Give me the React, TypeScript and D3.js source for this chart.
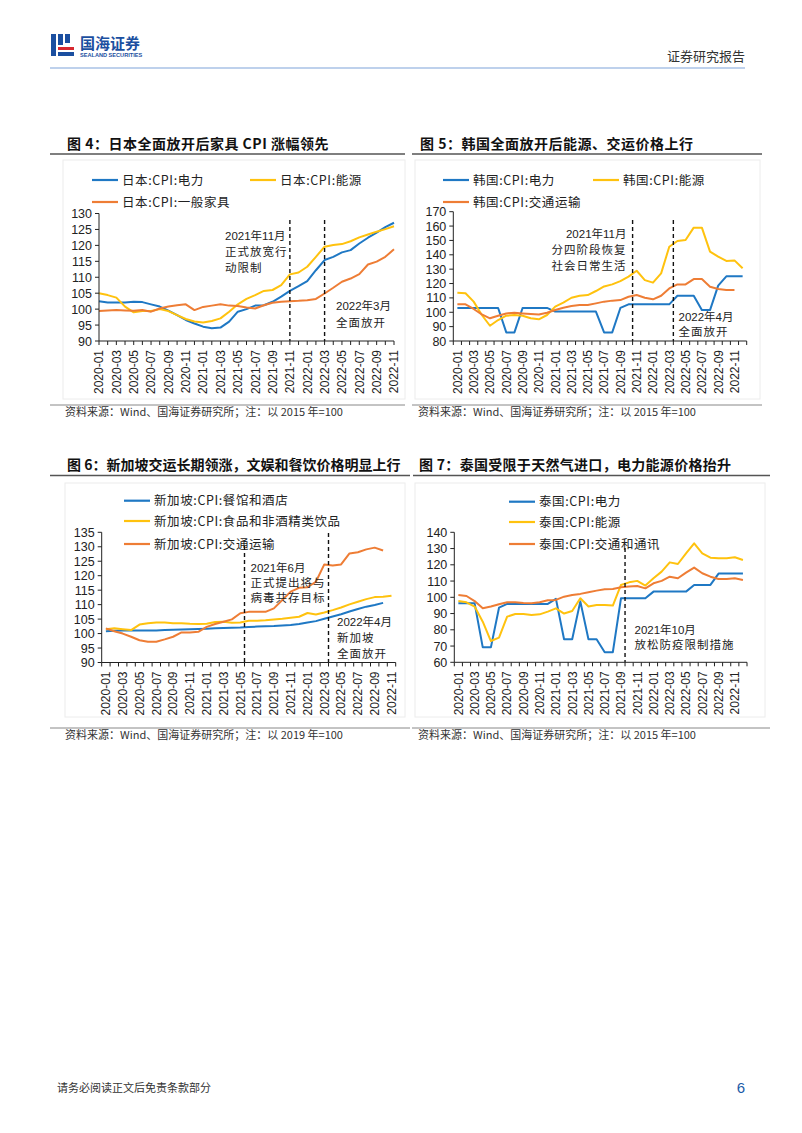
import React from 'react';
import * as d3 from 'd3';

// month categories shared by the four charts
const months = [
  '2020-01', '2020-02', '2020-03', '2020-04', '2020-05', '2020-06', '2020-07', '2020-08', '2020-09', '2020-10', '2020-11', '2020-12',
  '2021-01', '2021-02', '2021-03', '2021-04', '2021-05', '2021-06', '2021-07', '2021-08', '2021-09', '2021-10', '2021-11', '2021-12',
  '2022-01', '2022-02', '2022-03', '2022-04', '2022-05', '2022-06', '2022-07', '2022-08', '2022-09', '2022-10', '2022-11', '2022-12'
];

// 图4 日本
const jpMonths = months.slice(0, 35);
const jpPower = [102.5, 102.1, 102.1, 102.1, 102.3, 102.2, 101.5, 100.8, 99.5, 98.1, 96.6, 95.5, 94.5, 94.0, 94.2, 96.1, 99.2, 100.0, 101.1, 101.2, 102.3, 103.9, 105.7, 107.2, 108.8, 112.2, 115.4, 116.4, 117.8, 118.5, 120.6, 122.4, 124.0, 125.7, 127.1];
const jpEnergy = [105.0, 104.4, 103.6, 100.8, 99.0, 99.4, 99.4, 100.0, 99.4, 98.1, 96.9, 96.1, 95.8, 96.3, 97.1, 99.2, 101.5, 103.2, 104.4, 105.7, 106.0, 107.5, 110.9, 111.5, 113.3, 116.4, 119.6, 120.1, 120.4, 121.3, 122.5, 123.4, 124.3, 125.1, 126.0];
const jpFurniture = [99.4, 99.6, 99.7, 99.6, 99.5, 99.7, 99.2, 100.2, 100.8, 101.2, 101.5, 99.7, 100.7, 101.1, 101.5, 101.1, 101.0, 100.5, 100.2, 101.2, 102.0, 102.3, 102.5, 102.6, 102.8, 103.2, 104.9, 106.7, 108.6, 109.6, 111.0, 114.0, 114.9, 116.4, 118.8];
const jpTicks = [90, 95, 100, 105, 110, 115, 120, 125, 130];

// 图5 韩国
const krMonths = months;
const krPower = [103, 103, 103, 103, 103, 103, 86, 86, 103, 103, 103, 103, 100.5, 100.5, 100.5, 100.5, 100.5, 100.5, 86, 86, 103, 105.5, 105.5, 105.5, 105.5, 105.5, 105.5, 111.5, 111.5, 111.5, 101.5, 101.5, 118.5, 125, 125, 125];
const krEnergy = [113.6, 113.2, 107.4, 98.1, 90.6, 94.6, 97.6, 98.1, 97.6, 95.8, 95.1, 98.1, 103.9, 106.7, 110.1, 111.5, 112.0, 114.8, 118.0, 119.4, 121.7, 124.8, 128.9, 122.4, 120.6, 127.1, 145.6, 149.6, 150.3, 158.9, 158.9, 142.2, 138.7, 135.7, 136.1, 130.6];
const krTransport = [105.5, 105.5, 102.3, 98.5, 95.8, 97.6, 99.2, 99.7, 99.2, 98.8, 98.5, 99.7, 101.6, 103.2, 104.3, 105.0, 105.0, 106.2, 107.4, 108.1, 108.5, 110.8, 112.0, 110.1, 109.0, 111.5, 116.6, 119.4, 119.4, 123.1, 123.1, 117.8, 116.2, 115.5, 115.5];
const krTicks = [80, 90, 100, 110, 120, 130, 140, 150, 160, 170];

// 图6 新加坡
const sgMonths = months.slice(0, 35);
const sgRestaurant = [100.8, 101.0, 101.1, 101.1, 101.1, 101.1, 101.1, 101.2, 101.3, 101.4, 101.5, 101.6, 101.7, 101.8, 101.9, 102.0, 102.1, 102.3, 102.4, 102.5, 102.6, 102.8, 103.0, 103.3, 103.8, 104.3, 105.1, 105.9, 106.7, 107.6, 108.5, 109.3, 109.9, 110.6];
const sgFood = [101.5, 101.8, 101.5, 101.2, 103.1, 103.6, 103.8, 103.8, 103.6, 103.6, 103.4, 103.3, 103.4, 104.0, 104.1, 103.7, 103.8, 104.4, 104.4, 104.6, 104.9, 105.1, 105.5, 105.8, 107.1, 106.6, 107.3, 108.1, 109.0, 110.1, 111.0, 111.9, 112.6, 112.7, 113.1];
const sgTransport = [101.8, 100.8, 100.0, 98.9, 97.7, 97.2, 97.2, 98.0, 98.9, 100.4, 100.4, 100.6, 102.3, 103.3, 104.1, 104.9, 107.0, 107.5, 107.5, 107.5, 108.7, 111.6, 114.5, 115.8, 116.0, 117.9, 123.9, 123.5, 123.9, 127.7, 128.1, 129.1, 129.7, 128.7];
const sgTicks = [90, 95, 100, 105, 110, 115, 120, 125, 130, 135];

// 图7 泰国
const thMonths = months;
const thPower = [96.3, 96.3, 96.3, 69.2, 69.2, 93.6, 95.9, 95.9, 95.9, 95.9, 95.9, 95.9, 99.0, 74.2, 74.2, 97.5, 74.2, 74.2, 66.2, 66.2, 99.4, 99.4, 99.4, 99.4, 103.5, 103.5, 103.5, 103.5, 103.5, 107.6, 107.6, 107.6, 114.6, 114.6, 114.6, 114.6];
const thEnergy = [97.7, 96.9, 94.3, 85.0, 73.1, 75.2, 88.1, 89.7, 89.7, 89.1, 89.5, 91.2, 93.2, 90.0, 91.6, 99.4, 94.3, 95.3, 95.3, 94.9, 107.6, 109.2, 110.1, 107.2, 111.7, 115.8, 121.5, 120.5, 127.0, 133.2, 127.1, 124.4, 124.0, 124.0, 124.6, 123.0];
const thTransport = [101.4, 100.8, 97.7, 93.2, 94.3, 95.7, 96.9, 96.9, 96.5, 96.3, 96.9, 98.2, 98.4, 100.4, 101.4, 102.1, 103.1, 104.1, 104.9, 105.1, 106.2, 106.6, 107.0, 105.5, 108.6, 110.1, 112.7, 111.7, 115.2, 118.3, 114.8, 112.7, 111.3, 111.3, 111.7, 110.7];
const thTicks = [60, 70, 80, 90, 100, 110, 120, 130, 140];

const BLUE = '#1f78c4';
const YELLOW = '#ffc20e';
const ORANGE = '#ee7d35';
const CJK = '"Noto Sans CJK SC", sans-serif';
const NUM = '"Liberation Sans", "Noto Sans CJK SC", sans-serif';

interface Series { name: string; values: number[]; color: string; }
interface Note { x: number; y: number; anchor: 'start' | 'end'; lines: string[]; lh: number; }
interface LegendPos { x: number; y: number; s: number; }

interface ChartProps {
  cats: string[];
  series: Series[];
  ticks: number[];
  left: number; right: number; top: number; bottom: number;
  mode: 'point' | 'band';
  markers: { month: string; top: number }[];
  notes: Note[];
  legend: LegendPos[];
}

const LineChart: React.FC<ChartProps> = ({ cats, series, ticks, left, right, top, bottom, mode, markers, notes, legend }) => {
  const y = d3.scaleLinear().domain([ticks[0], ticks[ticks.length - 1]]).range([bottom, top]);

  let xc: (c: string) => number;
  let edge: (c: string) => number;
  let tickXs: number[];
  if (mode === 'point') {
    const p = d3.scalePoint<string>().domain(cats).range([left, right]);
    xc = c => p(c) as number;
    edge = xc;
    tickXs = cats.map(c => p(c) as number);
  } else {
    const b = d3.scaleBand<string>().domain(cats).range([left, right]);
    xc = c => (b(c) as number) + b.bandwidth() / 2;
    edge = c => b(c) as number;
    tickXs = [...cats.map(c => b(c) as number), right];
  }

  const line = d3.line<number>()
    .x((_, i) => xc(cats[i]))
    .y(d => y(d));

  const labelCats = cats.filter((_, i) => i % 2 === 0 && i < 35);

  return (
    <g>
      {/* legend */}
      {legend.map(l => (
        <g key={l.s}>
          <line x1={l.x} x2={l.x + 26} y1={l.y} y2={l.y} stroke={series[l.s].color} strokeWidth={2.2} />
          <text x={l.x + 30} y={l.y} dy="0.36em" fontFamily={CJK} fontSize={12.5} fill="#222" letterSpacing={0.6}>
            {series[l.s].name}
          </text>
        </g>
      ))}

      {/* series */}
      {series.map(s => (
        <path key={s.name} d={line(s.values) || ''} fill="none" stroke={s.color} strokeWidth={2} strokeLinejoin="round" />
      ))}

      {/* event markers */}
      {markers.map(m => (
        <line key={m.month} x1={edge(m.month)} x2={edge(m.month)} y1={m.top} y2={bottom}
          stroke="#111" strokeWidth={1.4} strokeDasharray="4,3" />
      ))}

      {/* notes */}
      {notes.map((n, k) => (
        <g key={k}>
          {n.lines.map((t, j) => (
            <text key={j} x={n.x} y={n.y + j * n.lh} textAnchor={n.anchor} fontSize={11.5} fill="#222"
              fontFamily={j === 0 ? NUM : CJK} letterSpacing={j === 0 ? 0 : 1}>{t}</text>
          ))}
        </g>
      ))}

      {/* y axis */}
      <line x1={left} x2={left} y1={y(ticks[ticks.length - 1])} y2={bottom} stroke="#222" strokeWidth={1} />
      {ticks.map(t => (
        <g key={t}>
          <line x1={left - 4} x2={left} y1={y(t)} y2={y(t)} stroke="#222" />
          <text x={left - 7} y={y(t)} dy="0.36em" textAnchor="end" fontFamily={NUM} fontSize={12.5} fill="#222">{t}</text>
        </g>
      ))}

      {/* x axis */}
      <line x1={left} x2={right} y1={bottom} y2={bottom} stroke="#222" strokeWidth={1} />
      {tickXs.map((tx, i) => (
        <line key={i} x1={tx} x2={tx} y1={bottom} y2={bottom + 4} stroke="#222" />
      ))}
      {labelCats.map(c => (
        <text key={c} transform={`translate(${xc(c)},${bottom + 9}) rotate(-90)`} dy="0.36em" textAnchor="end"
          fontFamily={NUM} fontSize={12} fill="#222">{c}</text>
      ))}
    </g>
  );
};

const Title: React.FC<{ x: number; y: number; x1: number; x2: number; text: string; ls?: number }> = ({ x, y, x1, x2, text, ls = 0.5 }) => (
  <g>
    <text x={x} y={y} fontFamily={CJK} fontWeight="bold" fontSize={14} fill="#111" letterSpacing={ls}>{text}</text>
    <line x1={x1} x2={x2} y1={y + 5.5} y2={y + 5.5} stroke="#555" strokeWidth={1.3} />
  </g>
);

const Source: React.FC<{ x: number; y: number; x1: number; x2: number; text: string }> = ({ x, y, x1, x2, text }) => (
  <g>
    <line x1={x1} x2={x2} y1={y - 11} y2={y - 11} stroke="#888" strokeWidth={1} />
    <text x={x} y={y} fontFamily={CJK} fontSize={11} fill="#333">{text}</text>
  </g>
);

export default function App() {
  return (
    <svg width={802} height={1133} style={{ position: 'absolute', left: 0, top: 0, background: '#fff' }}>
      {/* header */}
      <g>
        <rect x={51} y={34} width={5} height={22} fill="#1b4fa0" />
        <rect x={58} y={34} width={5} height={11} fill="#1b4fa0" />
        <rect x={65} y={34} width={5} height={9} fill="#1b4fa0" />
        <rect x={58} y={47} width={16} height={3} fill="#d7282f" />
        <rect x={58} y={52} width={16} height={4} fill="#1b4fa0" />
        <text x={80} y={49} fontFamily={CJK} fontWeight="bold" fontSize={15} fill="#1b4fa0">国海证券</text>
        <text x={80} y={57} fontFamily={NUM} fontWeight="bold" fontSize={5.6} fill="#1b4fa0">SEALAND SECURITIES</text>
        <text x={745} y={61} textAnchor="end" fontFamily={CJK} fontSize={13} fill="#333">证券研究报告</text>
        <line x1={50} x2={745} y1={68} y2={68} stroke="#a9c2e6" strokeWidth={1.6} />
      </g>

      {/* faint frames */}
      <rect x={63} y={160} width={342} height={239} fill="none" stroke="#ececec" />
      <rect x={415} y={160} width={345} height={239} fill="none" stroke="#ececec" />
      <rect x={65} y={483} width={340} height={234} fill="none" stroke="#ececec" />
      <rect x={415} y={483} width={350} height={234} fill="none" stroke="#ececec" />

      <Title x={67} y={148.5} x1={50} x2={405} text="图 4：日本全面放开后家具 CPI 涨幅领先" />
      <Title x={420} y={148.5} x1={412} x2={762} text="图 5：韩国全面放开后能源、交运价格上行" />
      <Title x={67} y={470} x1={50} x2={410} text="图 6：新加坡交运长期领涨，文娱和餐饮价格明显上行" ls={0} />
      <Title x={419} y={470} x1={413} x2={770} text="图 7：泰国受限于天然气进口，电力能源价格抬升" ls={0.3} />

      <LineChart
        cats={jpMonths}
        series={[
          { name: '日本:CPI:电力', values: jpPower, color: BLUE },
          { name: '日本:CPI:能源', values: jpEnergy, color: YELLOW },
          { name: '日本:CPI:一般家具', values: jpFurniture, color: ORANGE }
        ]}
        ticks={jpTicks}
        left={99} right={394} top={213.5} bottom={341}
        mode="point"
        markers={[{ month: '2021-11', top: 220 }, { month: '2022-03', top: 220 }]}
        notes={[
          { x: 225, y: 239.5, anchor: 'start', lines: ['2021年11月', '正式放宽行', '动限制'], lh: 16 },
          { x: 336, y: 309.5, anchor: 'start', lines: ['2022年3月', '全面放开'], lh: 17.5 }
        ]}
        legend={[{ x: 92, y: 180, s: 0 }, { x: 250, y: 180, s: 1 }, { x: 92, y: 202, s: 2 }]}
      />

      <LineChart
        cats={krMonths}
        series={[
          { name: '韩国:CPI:电力', values: krPower, color: BLUE },
          { name: '韩国:CPI:能源', values: krEnergy, color: YELLOW },
          { name: '韩国:CPI:交通运输', values: krTransport, color: ORANGE }
        ]}
        ticks={krTicks}
        left={453.3} right={746.7} top={211.7} bottom={341}
        mode="band"
        markers={[{ month: '2021-11', top: 220 }, { month: '2022-04', top: 220 }]}
        notes={[
          { x: 626.5, y: 238, anchor: 'end', lines: ['2021年11月', '分四阶段恢复', '社会日常生活'], lh: 16 },
          { x: 678.5, y: 320.5, anchor: 'start', lines: ['2022年4月', '全面放开'], lh: 15.5 }
        ]}
        legend={[{ x: 443, y: 180, s: 0 }, { x: 593, y: 180, s: 1 }, { x: 443, y: 202, s: 2 }]}
      />

      <LineChart
        cats={sgMonths}
        series={[
          { name: '新加坡:CPI:餐馆和酒店', values: sgRestaurant, color: BLUE },
          { name: '新加坡:CPI:食品和非酒精类饮品', values: sgFood, color: YELLOW },
          { name: '新加坡:CPI:交通运输', values: sgTransport, color: ORANGE }
        ]}
        ticks={sgTicks}
        left={101.7} right={395.7} top={532.3} bottom={662.5}
        mode="band"
        markers={[{ month: '2021-06', top: 546 }, { month: '2022-04', top: 533 }]}
        notes={[
          { x: 250.5, y: 571.5, anchor: 'start', lines: ['2021年6月', '正式提出将与', '病毒共存目标'], lh: 15 },
          { x: 337, y: 626, anchor: 'start', lines: ['2022年4月', '新加坡', '全面放开'], lh: 16 }
        ]}
        legend={[{ x: 124, y: 500.7, s: 0 }, { x: 124, y: 521, s: 1 }, { x: 124, y: 544, s: 2 }]}
      />

      <LineChart
        cats={thMonths}
        series={[
          { name: '泰国:CPI:电力', values: thPower, color: BLUE },
          { name: '泰国:CPI:能源', values: thEnergy, color: YELLOW },
          { name: '泰国:CPI:交通和通讯', values: thTransport, color: ORANGE }
        ]}
        ticks={thTicks}
        left={454.3} right={747} top={532.3} bottom={662.3}
        mode="band"
        markers={[{ month: '2021-10', top: 548 }]}
        notes={[
          { x: 634.5, y: 634, anchor: 'start', lines: ['2021年10月', '放松防疫限制措施'], lh: 15 }
        ]}
        legend={[{ x: 509, y: 501.7, s: 0 }, { x: 509, y: 522, s: 1 }, { x: 509, y: 544, s: 2 }]}
      />

      <Source x={65} y={416} x1={50} x2={405} text="资料来源：Wind、国海证券研究所；注：以 2015 年=100" />
      <Source x={418} y={416} x1={412} x2={762} text="资料来源：Wind、国海证券研究所；注：以 2015 年=100" />
      <Source x={65} y={739} x1={50} x2={410} text="资料来源：Wind、国海证券研究所；注：以 2019 年=100" />
      <Source x={418} y={739} x1={412} x2={770} text="资料来源：Wind、国海证券研究所；注：以 2015 年=100" />

      {/* footer */}
      <text x={57} y={1092} fontFamily={CJK} fontSize={11} fill="#333">请务必阅读正文后免责条款部分</text>
      <text x={745} y={1093} textAnchor="end" fontFamily={NUM} fontSize={15} fill="#1a5ca8">6</text>
    </svg>
  );
}
